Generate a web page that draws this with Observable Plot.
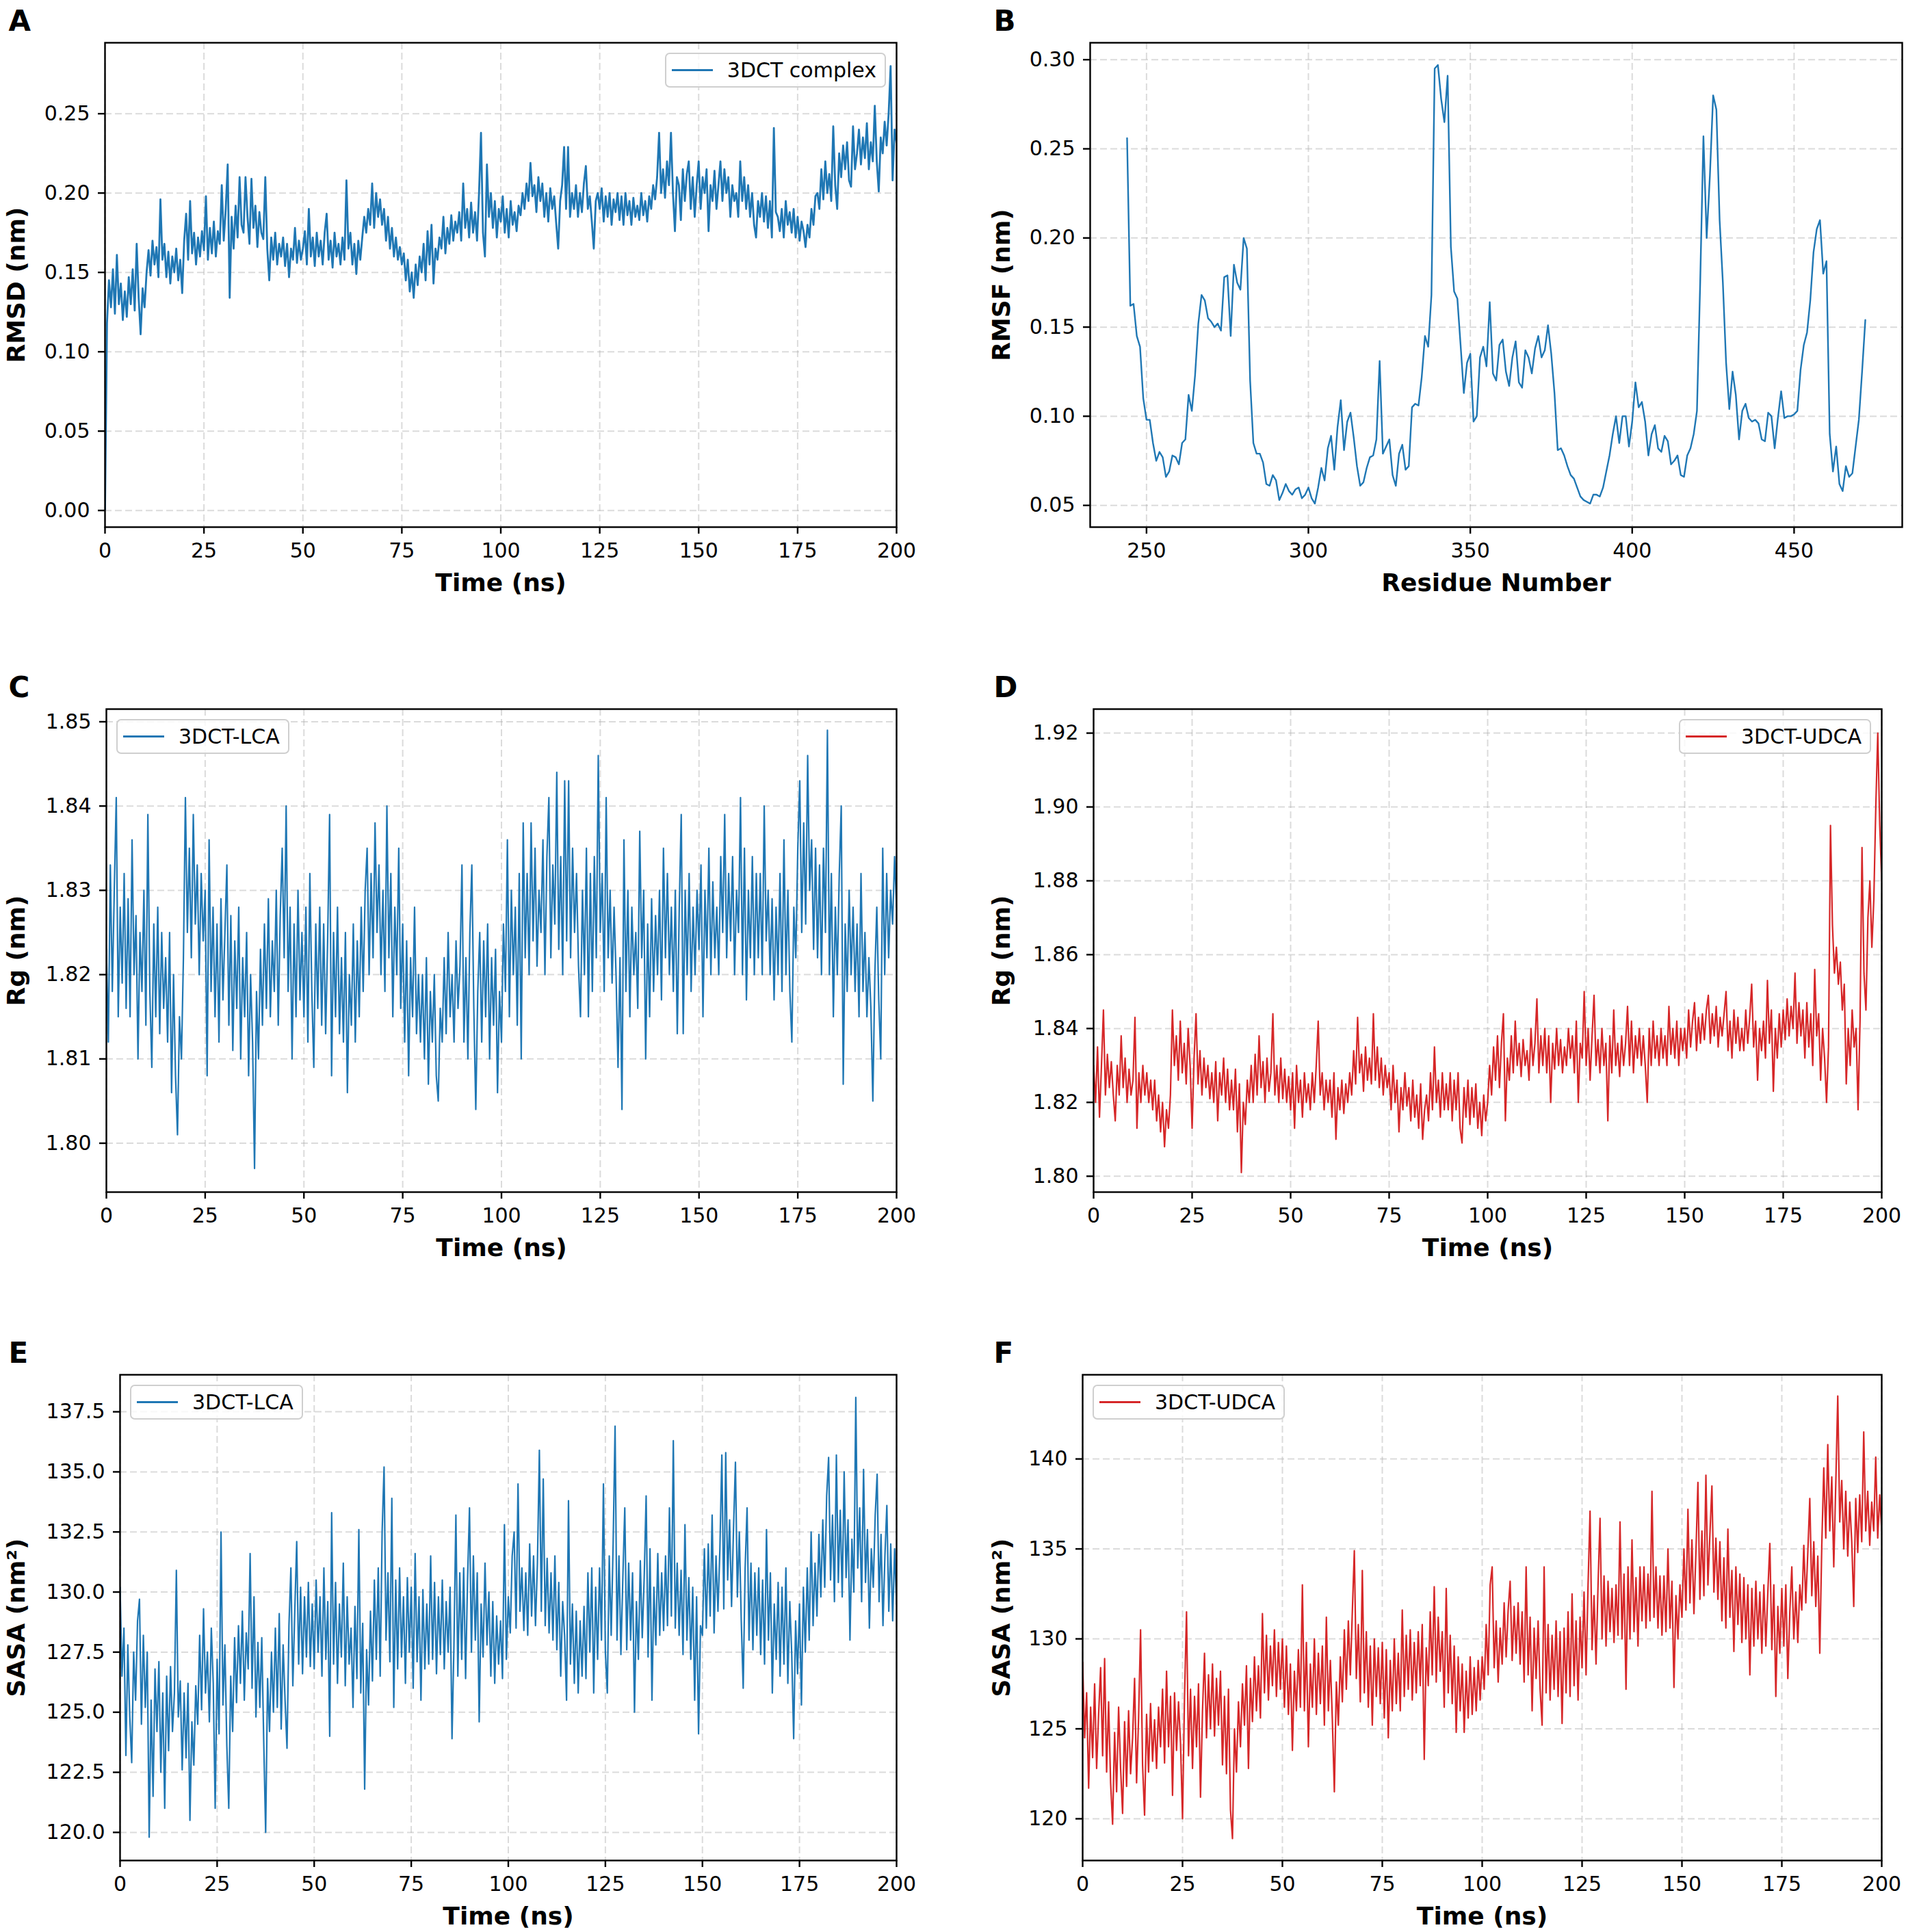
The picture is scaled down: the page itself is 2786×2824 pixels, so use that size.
<!DOCTYPE html>
<html><head><meta charset="utf-8">
<script src="https://cdn.jsdelivr.net/npm/d3@7"></script>
<script src="https://cdn.jsdelivr.net/npm/@observablehq/plot@0.6"></script>
<style>
html,body{margin:0;padding:0;background:#fff;}
#fig{position:relative;width:2786px;height:2824px;background:#fff;overflow:hidden;font-family:"DejaVu Sans",sans-serif;}
.legend{position:absolute;box-sizing:border-box;height:51px;display:flex;align-items:center;border:2px solid #cfcfcf;border-radius:7px;background:rgba(255,255,255,0.8);padding:0 12px 0 8px;font-size:30px;font-family:"DejaVu Sans";color:#000;white-space:nowrap;}
.legend .swatch{display:inline-block;width:60px;margin-right:21px;}
</style></head><body><div id="fig"></div>
<script>
// ---------- data ----------
const timeTicks = [0, 25, 50, 75, 100, 125, 150, 175, 200];
const residueTicks = [250, 300, 350, 400, 450];
const rmsdTicks = [0, 0.05, 0.10, 0.15, 0.20, 0.25];
const rmsfTicks = [0.05, 0.10, 0.15, 0.20, 0.25, 0.30];
const rgLcaTicks = [1.80, 1.81, 1.82, 1.83, 1.84, 1.85];
const rgUdcaTicks = [1.80, 1.82, 1.84, 1.86, 1.88, 1.90, 1.92];
const sasaLcaTicks = [120, 122.5, 125, 127.5, 130, 132.5, 135, 137.5];
const sasaUdcaTicks = [120, 125, 130, 135, 140];
const simulationLengthNs = 200;
const firstResidue = 244;

// RMSD of 3DCT complex, every 0.5 ns from 0 to 200 ns
const rmsdValues = [
0.0005,0.118,0.145,0.128,0.152,0.124,0.161,0.130,0.143,0.120,
0.138,0.122,0.147,0.130,0.152,0.126,0.168,0.134,0.111,0.140,
0.128,0.150,0.164,0.148,0.170,0.155,0.166,0.147,0.196,0.158,
0.168,0.147,0.163,0.143,0.160,0.150,0.165,0.145,0.158,0.137,
0.170,0.187,0.158,0.195,0.162,0.175,0.155,0.172,0.160,0.176,
0.164,0.198,0.158,0.178,0.162,0.182,0.160,0.176,0.168,0.205,
0.170,0.190,0.218,0.134,0.185,0.165,0.192,0.172,0.210,0.180,
0.175,0.210,0.185,0.168,0.209,0.178,0.192,0.166,0.188,0.175,
0.171,0.210,0.165,0.145,0.172,0.158,0.175,0.155,0.168,0.160,
0.172,0.154,0.168,0.147,0.165,0.158,0.178,0.156,0.170,0.158,
0.165,0.176,0.155,0.190,0.160,0.172,0.154,0.175,0.160,0.170,
0.155,0.175,0.187,0.158,0.170,0.153,0.175,0.160,0.168,0.155,
0.172,0.158,0.208,0.165,0.175,0.155,0.168,0.149,0.170,0.158,
0.172,0.185,0.175,0.190,0.180,0.206,0.178,0.200,0.185,0.196,
0.180,0.190,0.170,0.185,0.165,0.178,0.160,0.172,0.158,0.166,
0.155,0.162,0.145,0.158,0.138,0.150,0.134,0.155,0.142,0.160,
0.150,0.168,0.145,0.176,0.155,0.180,0.143,0.165,0.158,0.172,
0.165,0.185,0.162,0.178,0.168,0.186,0.170,0.182,0.175,0.188,
0.170,0.206,0.178,0.190,0.172,0.194,0.175,0.188,0.170,0.200,
0.238,0.175,0.160,0.218,0.185,0.200,0.178,0.195,0.172,0.190,
0.182,0.198,0.175,0.190,0.172,0.195,0.180,0.188,0.176,0.192,
0.186,0.200,0.190,0.206,0.195,0.219,0.198,0.205,0.188,0.210,
0.195,0.206,0.185,0.200,0.182,0.203,0.190,0.198,0.181,0.165,
0.195,0.205,0.229,0.190,0.229,0.185,0.200,0.190,0.205,0.185,
0.200,0.188,0.206,0.217,0.190,0.198,0.182,0.165,0.195,0.200,
0.190,0.203,0.182,0.198,0.185,0.200,0.180,0.196,0.188,0.200,
0.183,0.198,0.180,0.200,0.186,0.195,0.180,0.197,0.185,0.192,
0.183,0.200,0.186,0.195,0.182,0.198,0.190,0.205,0.196,0.210,
0.238,0.200,0.215,0.197,0.220,0.205,0.238,0.200,0.176,0.210,
0.205,0.183,0.215,0.195,0.212,0.220,0.190,0.210,0.185,0.205,
0.220,0.190,0.210,0.200,0.215,0.176,0.205,0.195,0.214,0.190,
0.205,0.220,0.195,0.215,0.200,0.210,0.185,0.205,0.195,0.200,
0.185,0.220,0.195,0.210,0.190,0.205,0.185,0.200,0.180,0.172,
0.195,0.185,0.200,0.182,0.198,0.178,0.195,0.172,0.241,0.188,
0.185,0.176,0.190,0.172,0.195,0.180,0.188,0.175,0.190,0.172,
0.185,0.170,0.182,0.176,0.166,0.180,0.172,0.190,0.180,0.198,
0.200,0.190,0.215,0.196,0.220,0.200,0.212,0.195,0.242,0.205,
0.190,0.225,0.210,0.230,0.215,0.232,0.208,0.204,0.242,0.215,
0.225,0.240,0.218,0.235,0.222,0.244,0.215,0.232,0.220,0.255,
0.220,0.201,0.235,0.225,0.245,0.230,0.250,0.280,0.208,0.240,
0.232];

// RMSF per residue, residues 244..472
const rmsfValues = [
0.256,0.162,0.163,0.145,0.139,0.110,0.098,0.098,0.085,0.075,
0.080,0.077,0.066,0.069,0.078,0.077,0.073,0.085,0.087,0.112,
0.103,0.123,0.152,0.168,0.165,0.155,0.153,0.150,0.152,0.148,
0.178,0.179,0.145,0.185,0.175,0.171,0.200,0.194,0.120,0.085,
0.079,0.079,0.074,0.062,0.061,0.067,0.064,0.053,0.057,0.062,
0.058,0.056,0.059,0.060,0.054,0.056,0.060,0.054,0.051,0.060,
0.071,0.064,0.082,0.089,0.070,0.094,0.109,0.081,0.097,0.102,
0.088,0.072,0.061,0.063,0.071,0.077,0.078,0.087,0.131,0.079,
0.083,0.087,0.067,0.061,0.079,0.084,0.070,0.072,0.105,0.107,
0.106,0.122,0.145,0.139,0.168,0.295,0.297,0.278,0.265,0.291,
0.195,0.170,0.166,0.140,0.113,0.130,0.135,0.097,0.100,0.133,
0.139,0.128,0.164,0.124,0.120,0.140,0.143,0.125,0.117,0.133,
0.142,0.119,0.116,0.137,0.133,0.124,0.138,0.145,0.133,0.137,
0.151,0.135,0.113,0.081,0.082,0.078,0.072,0.067,0.065,0.060,
0.055,0.053,0.052,0.051,0.056,0.056,0.055,0.060,0.069,0.078,
0.090,0.100,0.085,0.100,0.100,0.083,0.097,0.119,0.105,0.108,
0.097,0.078,0.090,0.095,0.082,0.080,0.089,0.086,0.073,0.075,
0.078,0.067,0.066,0.078,0.082,0.090,0.103,0.175,0.257,0.200,
0.235,0.280,0.272,0.210,0.175,0.130,0.104,0.125,0.112,0.087,
0.103,0.107,0.099,0.097,0.098,0.096,0.087,0.086,0.102,0.100,
0.082,0.099,0.114,0.099,0.100,0.100,0.101,0.103,0.126,0.140,
0.147,0.165,0.192,0.205,0.210,0.180,0.187,0.090,0.069,0.083,
0.062,0.058,0.072,0.066,0.068,0.083,0.098,0.125,0.154];

// Rg of 3DCT-LCA, every 0.5 ns
const rgLcaValues = [
1.823,1.812,1.833,1.818,1.830,1.841,1.815,1.828,1.819,1.832,
1.816,1.829,1.815,1.836,1.820,1.827,1.810,1.825,1.818,1.830,
1.814,1.839,1.818,1.809,1.826,1.815,1.828,1.813,1.825,1.816,
1.822,1.812,1.825,1.806,1.820,1.808,1.801,1.815,1.810,1.822,
1.841,1.825,1.835,1.822,1.839,1.826,1.833,1.820,1.832,1.824,
1.830,1.808,1.836,1.818,1.828,1.815,1.826,1.812,1.829,1.817,
1.825,1.833,1.814,1.827,1.811,1.824,1.816,1.828,1.810,1.822,
1.815,1.825,1.808,1.820,1.812,1.797,1.818,1.810,1.823,1.814,
1.826,1.816,1.829,1.815,1.824,1.818,1.830,1.814,1.827,1.835,
1.822,1.840,1.818,1.828,1.810,1.826,1.815,1.830,1.817,1.825,
1.815,1.828,1.812,1.832,1.818,1.809,1.826,1.816,1.828,1.814,
1.826,1.813,1.824,1.839,1.808,1.825,1.815,1.828,1.813,1.822,
1.812,1.825,1.806,1.820,1.814,1.826,1.812,1.824,1.815,1.828,
1.818,1.830,1.835,1.820,1.832,1.822,1.838,1.825,1.833,1.820,
1.830,1.818,1.840,1.822,1.832,1.815,1.828,1.820,1.835,1.816,
1.826,1.812,1.824,1.808,1.822,1.815,1.828,1.813,1.820,1.812,
1.820,1.810,1.822,1.807,1.818,1.812,1.820,1.808,1.805,1.816,
1.812,1.822,1.813,1.825,1.815,1.820,1.812,1.824,1.816,1.821,
1.833,1.812,1.822,1.810,1.825,1.833,1.816,1.804,1.818,1.825,
1.812,1.824,1.815,1.826,1.810,1.822,1.814,1.823,1.806,1.818,
1.812,1.826,1.818,1.836,1.815,1.830,1.820,1.828,1.814,1.832,
1.810,1.838,1.822,1.832,1.820,1.838,1.824,1.835,1.821,1.830,
1.825,1.836,1.820,1.834,1.841,1.822,1.833,1.826,1.844,1.823,
1.834,1.820,1.843,1.824,1.843,1.822,1.835,1.825,1.832,1.821,
1.815,1.830,1.820,1.835,1.815,1.832,1.818,1.834,1.822,1.846,
1.825,1.832,1.818,1.841,1.822,1.830,1.819,1.828,1.820,1.809,
1.822,1.804,1.836,1.818,1.830,1.815,1.828,1.820,1.825,1.816,
1.837,1.822,1.830,1.810,1.826,1.815,1.829,1.818,1.827,1.820,
1.830,1.817,1.835,1.822,1.832,1.820,1.828,1.818,1.830,1.813,
1.828,1.839,1.813,1.830,1.820,1.832,1.818,1.828,1.820,1.830,
1.823,1.833,1.815,1.830,1.822,1.835,1.820,1.831,1.822,1.828,
1.820,1.834,1.825,1.839,1.822,1.832,1.824,1.834,1.820,1.830,
1.825,1.841,1.820,1.835,1.817,1.830,1.822,1.834,1.820,1.832,
1.822,1.832,1.820,1.840,1.824,1.830,1.820,1.829,1.817,1.828,
1.820,1.832,1.818,1.836,1.820,1.830,1.818,1.812,1.828,1.822,
1.835,1.843,1.825,1.838,1.826,1.846,1.830,1.836,1.823,1.835,
1.822,1.833,1.820,1.835,1.825,1.849,1.820,1.832,1.815,1.828,
1.820,1.832,1.840,1.807,1.826,1.818,1.830,1.820,1.828,1.818,
1.826,1.815,1.832,1.818,1.825,1.815,1.822,1.816,1.805,1.820,
1.828,1.817,1.810,1.835,1.820,1.832,1.822,1.830,1.826,1.834,
1.828];

// Rg of 3DCT-UDCA, every 0.5 ns
const rgUdcaValues = [
1.830,1.820,1.835,1.816,1.830,1.845,1.822,1.833,1.824,1.831,
1.822,1.815,1.830,1.822,1.838,1.824,1.832,1.820,1.829,1.822,
1.826,1.843,1.813,1.828,1.820,1.830,1.822,1.828,1.820,1.826,
1.818,1.826,1.815,1.822,1.812,1.820,1.808,1.818,1.813,1.822,
1.845,1.830,1.838,1.826,1.842,1.828,1.836,1.825,1.840,1.830,
1.813,1.832,1.844,1.825,1.834,1.822,1.832,1.824,1.830,1.821,
1.828,1.820,1.831,1.815,1.828,1.822,1.832,1.820,1.829,1.818,
1.826,1.818,1.829,1.812,1.825,1.801,1.820,1.814,1.826,1.820,
1.830,1.820,1.833,1.822,1.838,1.824,1.831,1.820,1.832,1.823,
1.828,1.844,1.822,1.830,1.820,1.832,1.821,1.829,1.820,1.827,
1.818,1.828,1.813,1.830,1.820,1.826,1.816,1.828,1.820,1.825,
1.818,1.828,1.820,1.830,1.842,1.822,1.828,1.818,1.826,1.820,
1.826,1.816,1.828,1.810,1.824,1.818,1.826,1.817,1.825,1.820,
1.828,1.822,1.834,1.825,1.843,1.828,1.833,1.823,1.835,1.826,
1.832,1.825,1.844,1.826,1.835,1.824,1.832,1.822,1.830,1.824,
1.828,1.818,1.830,1.820,1.826,1.812,1.824,1.818,1.828,1.819,
1.824,1.815,1.826,1.816,1.822,1.813,1.825,1.810,1.818,1.822,
1.815,1.828,1.818,1.835,1.820,1.826,1.816,1.828,1.818,1.825,
1.818,1.828,1.815,1.826,1.818,1.828,1.813,1.809,1.824,1.816,
1.826,1.814,1.824,1.816,1.825,1.813,1.820,1.811,1.822,1.815,
1.820,1.830,1.822,1.835,1.826,1.838,1.824,1.836,1.844,1.815,
1.832,1.826,1.838,1.828,1.842,1.830,1.836,1.827,1.837,1.830,
1.834,1.826,1.840,1.830,1.836,1.848,1.828,1.838,1.830,1.840,
1.828,1.838,1.820,1.836,1.829,1.840,1.830,1.837,1.828,1.835,
1.830,1.840,1.832,1.838,1.828,1.842,1.820,1.836,1.832,1.850,
1.830,1.840,1.826,1.838,1.849,1.830,1.837,1.828,1.840,1.830,
1.836,1.815,1.838,1.828,1.845,1.830,1.836,1.827,1.838,1.830,
1.836,1.846,1.830,1.842,1.828,1.838,1.832,1.840,1.830,1.838,
1.830,1.820,1.840,1.830,1.842,1.832,1.838,1.830,1.840,1.832,
1.838,1.830,1.846,1.833,1.840,1.832,1.842,1.830,1.840,1.834,
1.840,1.832,1.845,1.835,1.842,1.847,1.834,1.843,1.836,1.844,
1.837,1.845,1.849,1.836,1.844,1.838,1.846,1.835,1.843,1.838,
1.844,1.850,1.834,1.842,1.832,1.845,1.836,1.843,1.834,1.840,
1.834,1.845,1.836,1.843,1.852,1.835,1.842,1.826,1.840,1.834,
1.842,1.832,1.853,1.836,1.845,1.823,1.840,1.832,1.844,1.835,
1.845,1.837,1.848,1.838,1.846,1.840,1.855,1.836,1.847,1.838,
1.845,1.832,1.847,1.835,1.844,1.830,1.856,1.838,1.844,1.826,
1.840,1.832,1.820,1.835,1.895,1.868,1.855,1.862,1.852,1.858,
1.845,1.852,1.825,1.840,1.830,1.845,1.835,1.840,1.818,1.842,
1.889,1.855,1.845,1.870,1.880,1.862,1.875,1.900,1.920,1.895,
1.880];

// SASA of 3DCT-LCA, every 0.5 ns
const sasaLcaValues = [
130.2,126.5,128.5,123.2,127.8,124.8,122.9,127.5,125.5,128.8,
129.7,124.5,128.2,125.2,127.5,119.8,125.5,121.5,126.8,124.2,
127.1,122.5,125.8,121.0,126.5,123.4,126.9,124.2,125.8,130.9,
124.8,126.3,122.6,125.8,123.1,126.2,120.5,124.6,122.8,126.1,
124.5,128.2,125.1,129.3,125.8,127.5,124.6,128.5,126.2,121.0,
127.2,124.1,132.5,125.3,127.8,123.6,121.0,126.5,124.2,128.1,
125.4,128.6,126.2,129.2,125.5,128.3,126.8,131.6,126.0,129.8,
124.8,127.9,125.2,128.1,123.8,120.0,126.4,124.2,127.5,125.0,
128.5,125.2,129.1,124.3,127.8,125.5,123.5,128.6,131.0,126.1,
129.2,132.1,127.0,130.2,126.6,129.8,127.3,130.4,126.9,129.5,
126.8,130.5,127.5,129.8,126.5,131.0,127.2,129.6,124.0,133.3,
127.0,130.4,126.2,129.5,127.3,131.2,126.1,129.8,127.0,128.5,
125.2,129.4,126.4,132.6,125.8,128.7,121.8,127.6,125.3,129.2,
126.3,130.5,127.2,131.0,126.5,132.5,135.2,128.0,130.8,127.1,
133.9,125.2,130.5,126.8,131.0,127.3,129.8,126.2,130.6,127.5,
130.2,126.0,131.6,127.1,129.8,125.5,130.1,126.8,129.5,127.0,
131.5,127.2,130.4,126.6,129.8,127.4,130.5,126.8,129.6,127.5,
130.2,123.9,127.8,133.2,126.5,130.8,127.2,131.0,126.4,130.5,
133.5,127.5,131.5,128.0,130.8,124.6,129.5,127.3,131.2,127.8,
130.0,126.5,129.6,126.2,129.0,127.0,128.8,126.4,132.8,127.2,
129.8,128.3,131.5,132.5,128.5,134.5,129.2,131.0,128.4,130.8,
128.2,132.0,129.0,131.5,128.6,131.2,135.9,129.2,134.7,128.6,
131.4,128.3,130.8,128.0,131.5,127.6,130.4,126.5,129.6,128.2,
125.5,133.8,127.0,129.5,126.2,129.2,125.8,128.8,126.5,129.4,
126.4,130.8,127.5,131.0,125.8,130.2,127.2,131.0,128.0,134.5,
127.5,125.8,131.5,128.2,132.0,136.9,128.0,131.5,127.4,130.6,
133.5,127.6,131.2,128.0,130.8,125.0,129.6,127.2,131.3,128.1,
130.6,134.0,127.3,131.8,125.5,130.2,127.8,131.6,128.2,130.8,
128.4,131.5,128.6,133.5,129.0,136.3,128.5,131.2,128.2,130.9,
127.4,132.8,128.0,130.6,127.2,130.2,125.5,129.8,124.1,128.6,
128.2,131.8,128.5,132.0,129.0,133.2,128.3,131.5,129.2,131.8,
135.7,129.3,135.8,130.5,133.0,129.4,132.6,135.4,129.8,132.5,
128.8,126.0,131.0,133.5,128.0,131.2,127.6,130.8,128.2,131.0,
127.4,130.5,127.0,132.6,128.0,130.8,125.8,129.5,127.2,130.4,
126.5,130.2,127.0,131.0,126.2,129.6,127.4,123.9,128.8,126.6,
129.5,125.3,130.2,127.5,131.0,128.0,132.5,128.6,131.2,129.0,
132.4,129.8,133.0,130.2,134.0,135.6,130.5,133.2,129.6,135.7,
130.4,133.4,129.8,135.0,130.6,133.0,128.0,132.2,130.0,138.1,
131.0,133.5,129.6,135.1,130.4,132.6,128.5,131.8,130.2,133.2,
134.9,129.6,132.4,128.6,131.5,133.6,129.2,132.0,128.8,131.8,
129.5];

// SASA of 3DCT-UDCA, every 0.5 ns
const sasaUdcaValues = [
128.7,124.5,127.0,121.7,126.2,123.4,127.5,122.8,125.8,128.4,
123.5,128.9,122.6,126.5,122.0,119.7,124.8,121.5,126.2,122.8,
120.3,125.4,121.8,126.0,122.5,124.5,127.8,122.0,125.6,130.5,
123.0,120.2,125.8,122.6,126.4,123.2,125.5,122.8,126.2,124.0,
127.2,123.1,128.2,124.0,126.8,121.3,127.0,123.8,126.5,124.2,
120.0,126.8,131.5,123.5,127.2,122.8,126.8,124.0,127.5,121.2,
126.0,129.2,124.5,128.0,125.0,128.6,124.6,127.8,125.2,128.2,
123.0,126.8,122.5,127.2,120.5,118.9,125.0,122.6,126.5,124.0,
127.5,125.2,128.5,122.8,127.8,125.4,129.0,126.0,128.5,125.6,
131.4,127.0,130.2,126.6,129.6,127.4,130.5,126.8,129.8,127.2,
130.0,126.2,129.6,125.8,128.6,123.8,128.2,126.0,129.4,126.2,
133.0,126.0,129.8,124.0,128.6,126.2,130.0,125.8,129.2,126.4,
129.6,125.2,131.2,126.0,128.8,125.5,121.5,127.6,125.2,129.0,
126.5,130.5,127.2,131.0,128.0,131.5,134.9,127.8,130.8,126.5,
133.8,127.0,130.4,126.2,129.6,125.2,130.0,126.8,129.5,126.4,
129.8,125.6,129.4,124.5,128.8,126.0,130.0,126.4,129.2,126.0,
131.6,126.8,130.2,127.2,130.5,126.6,129.8,127.0,130.4,127.4,
130.8,123.3,129.5,127.4,131.5,128.0,132.9,127.6,131.2,128.2,
130.4,126.2,132.8,127.0,130.2,126.4,129.6,124.8,129.0,126.0,
128.6,124.8,128.2,125.6,129.0,125.8,128.4,126.0,128.8,126.6,
129.0,127.2,130.8,128.0,133.0,134.0,128.4,131.0,127.6,130.6,
128.6,132.0,129.0,131.6,133.2,128.8,131.8,129.2,132.0,128.6,
131.5,127.6,134.0,128.0,131.2,126.0,130.6,127.8,131.0,127.2,
125.2,134.0,127.0,130.8,126.6,130.2,127.2,131.0,126.8,130.4,
125.3,130.6,127.0,131.5,126.8,132.5,127.4,131.0,126.6,131.2,
128.4,132.6,128.0,133.0,137.1,129.4,132.4,128.6,133.0,136.7,
130.0,133.5,129.6,133.2,130.4,132.8,129.8,133.0,130.2,136.5,
130.0,133.6,127.2,134.0,130.0,135.5,130.4,133.4,129.6,134.0,
131.0,134.0,130.6,133.6,131.0,138.2,131.2,134.0,130.6,133.5,
130.2,133.5,130.4,135.0,130.6,133.2,127.3,132.4,130.0,133.0,
131.2,135.0,131.6,137.2,132.0,135.5,131.4,134.8,138.7,132.2,
136.0,132.4,139.1,133.0,135.8,138.5,132.6,135.6,132.2,135.4,
131.0,134.5,130.6,136.1,131.2,133.8,129.3,134.0,130.8,133.6,
129.8,133.4,130.0,133.0,128.0,132.8,129.6,133.2,130.0,132.6,
129.2,133.0,129.6,132.6,135.3,129.4,133.0,126.8,131.8,129.2,
132.8,129.6,133.0,127.8,131.5,134.0,130.0,132.6,129.8,133.0,
131.6,135.2,132.0,134.8,137.8,132.4,135.4,131.8,134.6,129.2,
135.2,139.5,135.6,140.8,136.0,139.0,134.0,138.6,143.5,136.5,
138.8,135.0,138.2,134.6,137.6,135.4,131.8,137.8,134.8,138.0,
135.4,141.5,136.0,138.2,135.2,137.6,136.0,140.1,135.6,138.0,
136.0];

// ---------- tables ----------
const timeSeries = values => values.map((v, i) => ({x: i * simulationLengthNs / (values.length - 1), y: v}));
const residueSeries = values => values.map((v, i) => ({x: firstResidue + i, y: v}));

const BLUE = "#1f77b4", RED = "#d62728";
const fig = document.getElementById("fig");

function panel(c) {
  const mL = c.frameL - c.cellX, mT = c.frameT - c.cellY;
  const mR = c.cellX + c.cellW - c.frameR, mB = c.cellY + c.cellH - c.frameB;
  const gridStyle = {stroke: "#b0b0b0", strokeOpacity: 0.45, strokeWidth: 2, strokeDasharray: "10,5"};
  const chart = Plot.plot({
    width: c.cellW, height: c.cellH,
    marginLeft: mL, marginTop: mT, marginRight: mR, marginBottom: mB,
    style: {fontFamily: "DejaVu Sans", fontSize: "30px", color: "#000", background: "transparent", overflow: "visible"},
    x: {domain: c.xDomain, label: null},
    y: {domain: c.yDomain, label: null},
    marks: [
      Plot.gridX(c.xTicks, gridStyle),
      Plot.gridY(c.yTicks, gridStyle),
      Plot.line(c.data, {x: "x", y: "y", stroke: c.color, strokeWidth: c.sw, clip: true}),
      Plot.frame({stroke: "#000", strokeWidth: 2.4}),
      Plot.axisX(c.xTicks, {tickSize: 10, tickPadding: 13, strokeWidth: 2.4, fontSize: 30, tickFormat: d => String(d), label: null}),
      Plot.axisY(c.yTicks, {tickSize: 10, tickPadding: 12, strokeWidth: 2.4, fontSize: 30, tickFormat: c.yFormat, label: null}),
      Plot.text([c.xLabel], {frameAnchor: "bottom", dy: 93, text: d => d, fontSize: 36, fontWeight: "bold", textAnchor: "middle", lineAnchor: "bottom"}),
      Plot.text([c.yLabel], {frameAnchor: "left", dx: c.yLabelX - c.frameL, rotate: -90, text: d => d, fontSize: 36, fontWeight: "bold", textAnchor: "middle", lineAnchor: "middle"}),
      Plot.text([c.letter], {frameAnchor: "top-left", dx: c.letterX - c.frameL, dy: -18, text: d => d, fontSize: 42, fontWeight: "bold", textAnchor: "start", lineAnchor: "bottom"})
    ]
  });
  chart.style.position = "absolute";
  chart.style.left = c.cellX + "px";
  chart.style.top = c.cellY + "px";
  fig.appendChild(chart);

  if (c.legend) {
    const lg = document.createElement("div");
    lg.className = "legend";
    lg.innerHTML = `<span class="swatch" style="height:${c.sw}px;background:${c.color}"></span><span>${c.legend}</span>`;
    lg.style.top = (c.frameT + 15) + "px";
    if (c.legendSide === "right") lg.style.right = (2786 - (c.frameR - 15)) + "px";
    else lg.style.left = (c.frameL + 15) + "px";
    fig.appendChild(lg);
  }
}

const f2 = d3.format(".2f"), f1 = d3.format(".1f"), f0 = d3.format("d");

panel({cellX: 0, cellY: 0, cellW: 1420, cellH: 930, frameL: 153, frameT: 62, frameR: 1310, frameB: 770,
  data: timeSeries(rmsdValues), xDomain: [0, 200], yDomain: [-0.0105, 0.2947], xTicks: timeTicks, yTicks: rmsdTicks, yFormat: f2,
  color: BLUE, sw: 2.8, xLabel: "Time (ns)", yLabel: "RMSD (nm)", yLabelX: 24, letter: "A", letterX: 12,
  legend: "3DCT complex", legendSide: "right"});

panel({cellX: 1420, cellY: 0, cellW: 1366, cellH: 930, frameL: 1593, frameT: 62, frameR: 2780, frameB: 770,
  data: residueSeries(rmsfValues), xDomain: [232.6, 483.4], yDomain: [0.0378, 0.3095], xTicks: residueTicks, yTicks: rmsfTicks, yFormat: f2,
  color: BLUE, sw: 2.4, xLabel: "Residue Number", yLabel: "RMSF (nm)", yLabelX: 1464, letter: "B", letterX: 1452,
  legend: null});

panel({cellX: 0, cellY: 930, cellW: 1420, cellH: 970, frameL: 155, frameT: 1036, frameR: 1310, frameB: 1742,
  data: timeSeries(rgLcaValues), xDomain: [0, 200], yDomain: [1.7942, 1.8515], xTicks: timeTicks, yTicks: rgLcaTicks, yFormat: f2,
  color: BLUE, sw: 2.2, xLabel: "Time (ns)", yLabel: "Rg (nm)", yLabelX: 24, letter: "C", letterX: 12,
  legend: "3DCT-LCA", legendSide: "left"});

panel({cellX: 1420, cellY: 930, cellW: 1366, cellH: 970, frameL: 1598, frameT: 1036, frameR: 2750, frameB: 1742,
  data: timeSeries(rgUdcaValues), xDomain: [0, 200], yDomain: [1.7957, 1.9265], xTicks: timeTicks, yTicks: rgUdcaTicks, yFormat: f2,
  color: RED, sw: 2.2, xLabel: "Time (ns)", yLabel: "Rg (nm)", yLabelX: 1464, letter: "D", letterX: 1452,
  legend: "3DCT-UDCA", legendSide: "right"});

panel({cellX: 0, cellY: 1900, cellW: 1420, cellH: 924, frameL: 175, frameT: 2009, frameR: 1310, frameB: 2719,
  data: timeSeries(sasaLcaValues), xDomain: [0, 200], yDomain: [118.83, 139.04], xTicks: timeTicks, yTicks: sasaLcaTicks, yFormat: f1,
  color: BLUE, sw: 2.2, xLabel: "Time (ns)", yLabel: "SASA (nm²)", yLabelX: 24, letter: "E", letterX: 12,
  legend: "3DCT-LCA", legendSide: "left"});

panel({cellX: 1420, cellY: 1900, cellW: 1366, cellH: 924, frameL: 1582, frameT: 2009, frameR: 2750, frameB: 2719,
  data: timeSeries(sasaUdcaValues), xDomain: [0, 200], yDomain: [117.68, 144.68], xTicks: timeTicks, yTicks: sasaUdcaTicks, yFormat: f0,
  color: RED, sw: 2.2, xLabel: "Time (ns)", yLabel: "SASA (nm²)", yLabelX: 1464, letter: "F", letterX: 1452,
  legend: "3DCT-UDCA", legendSide: "left"});
</script></body></html>
